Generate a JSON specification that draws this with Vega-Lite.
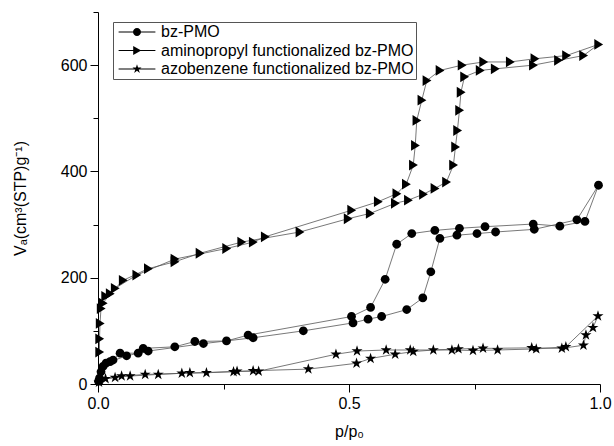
{
  "$schema": "https://vega.github.io/schema/vega-lite/v6.json",
  "width": 502,
  "height": 372,
  "autosize": {"type": "none"},
  "padding": {"left": 98, "top": 12, "right": 14, "bottom": 62},
  "background": "white",
  "config": {
    "view": {"stroke": null},
    "font": "Liberation Sans",
    "axis": {
      "grid": false,
      "domainColor": "black",
      "tickColor": "black",
      "labelColor": "black",
      "titleColor": "black",
      "labelFont": "Liberation Sans",
      "titleFont": "Liberation Sans",
      "labelFontSize": 16,
      "titleFontSize": 16,
      "titleFontWeight": "normal",
      "labelFlush": false,
      "labelOverlap": false,
      "domainWidth": 1,
      "tickWidth": 1
    },
    "legend": {
      "labelFont": "Liberation Sans",
      "labelFontSize": 16,
      "labelColor": "black"
    }
  },
  "data": {
    "values": [
      {"s": "bz-PMO", "i": 1, "x": 0.001, "y": 5},
      {"s": "bz-PMO", "i": 2, "x": 0.003, "y": 11},
      {"s": "bz-PMO", "i": 3, "x": 0.006, "y": 23},
      {"s": "bz-PMO", "i": 4, "x": 0.010, "y": 33},
      {"s": "bz-PMO", "i": 5, "x": 0.024, "y": 42},
      {"s": "bz-PMO", "i": 6, "x": 0.057, "y": 53},
      {"s": "bz-PMO", "i": 7, "x": 0.100, "y": 62},
      {"s": "bz-PMO", "i": 8, "x": 0.210, "y": 76},
      {"s": "bz-PMO", "i": 9, "x": 0.309, "y": 87},
      {"s": "bz-PMO", "i": 10, "x": 0.409, "y": 100},
      {"s": "bz-PMO", "i": 11, "x": 0.508, "y": 115},
      {"s": "bz-PMO", "i": 12, "x": 0.538, "y": 122},
      {"s": "bz-PMO", "i": 13, "x": 0.565, "y": 127},
      {"s": "bz-PMO", "i": 14, "x": 0.615, "y": 140},
      {"s": "bz-PMO", "i": 15, "x": 0.647, "y": 162},
      {"s": "bz-PMO", "i": 16, "x": 0.663, "y": 211},
      {"s": "bz-PMO", "i": 17, "x": 0.681, "y": 274},
      {"s": "bz-PMO", "i": 18, "x": 0.715, "y": 280},
      {"s": "bz-PMO", "i": 19, "x": 0.755, "y": 283},
      {"s": "bz-PMO", "i": 20, "x": 0.792, "y": 286},
      {"s": "bz-PMO", "i": 21, "x": 0.869, "y": 291},
      {"s": "bz-PMO", "i": 22, "x": 0.954, "y": 309},
      {"s": "bz-PMO", "i": 23, "x": 0.997, "y": 374},
      {"s": "bz-PMO", "i": 24, "x": 0.970, "y": 306},
      {"s": "bz-PMO", "i": 25, "x": 0.920, "y": 297},
      {"s": "bz-PMO", "i": 26, "x": 0.867, "y": 301},
      {"s": "bz-PMO", "i": 27, "x": 0.771, "y": 296},
      {"s": "bz-PMO", "i": 28, "x": 0.720, "y": 293},
      {"s": "bz-PMO", "i": 29, "x": 0.671, "y": 289},
      {"s": "bz-PMO", "i": 30, "x": 0.625, "y": 283},
      {"s": "bz-PMO", "i": 31, "x": 0.595, "y": 263},
      {"s": "bz-PMO", "i": 32, "x": 0.572, "y": 197},
      {"s": "bz-PMO", "i": 33, "x": 0.543, "y": 144},
      {"s": "bz-PMO", "i": 34, "x": 0.505, "y": 127},
      {"s": "bz-PMO", "i": 35, "x": 0.299, "y": 92},
      {"s": "bz-PMO", "i": 36, "x": 0.256, "y": 81},
      {"s": "bz-PMO", "i": 37, "x": 0.193, "y": 80},
      {"s": "bz-PMO", "i": 38, "x": 0.153, "y": 70},
      {"s": "bz-PMO", "i": 39, "x": 0.090, "y": 67},
      {"s": "bz-PMO", "i": 40, "x": 0.080, "y": 58},
      {"s": "bz-PMO", "i": 41, "x": 0.044, "y": 58},
      {"s": "bz-PMO", "i": 42, "x": 0.030, "y": 45},
      {"s": "bz-PMO", "i": 43, "x": 0.016, "y": 39},

      {"s": "aminopropyl functionalized bz-PMO", "i": 1, "x": 0.003, "y": 60},
      {"s": "aminopropyl functionalized bz-PMO", "i": 2, "x": 0.003, "y": 85},
      {"s": "aminopropyl functionalized bz-PMO", "i": 3, "x": 0.004, "y": 114},
      {"s": "aminopropyl functionalized bz-PMO", "i": 4, "x": 0.006, "y": 142},
      {"s": "aminopropyl functionalized bz-PMO", "i": 5, "x": 0.010, "y": 152},
      {"s": "aminopropyl functionalized bz-PMO", "i": 6, "x": 0.024, "y": 170},
      {"s": "aminopropyl functionalized bz-PMO", "i": 7, "x": 0.050, "y": 195},
      {"s": "aminopropyl functionalized bz-PMO", "i": 8, "x": 0.100, "y": 217},
      {"s": "aminopropyl functionalized bz-PMO", "i": 9, "x": 0.153, "y": 230},
      {"s": "aminopropyl functionalized bz-PMO", "i": 10, "x": 0.203, "y": 246},
      {"s": "aminopropyl functionalized bz-PMO", "i": 11, "x": 0.286, "y": 267},
      {"s": "aminopropyl functionalized bz-PMO", "i": 12, "x": 0.402, "y": 286},
      {"s": "aminopropyl functionalized bz-PMO", "i": 13, "x": 0.498, "y": 311},
      {"s": "aminopropyl functionalized bz-PMO", "i": 14, "x": 0.542, "y": 321},
      {"s": "aminopropyl functionalized bz-PMO", "i": 15, "x": 0.592, "y": 340},
      {"s": "aminopropyl functionalized bz-PMO", "i": 16, "x": 0.618, "y": 346},
      {"s": "aminopropyl functionalized bz-PMO", "i": 17, "x": 0.648, "y": 357},
      {"s": "aminopropyl functionalized bz-PMO", "i": 18, "x": 0.671, "y": 368},
      {"s": "aminopropyl functionalized bz-PMO", "i": 19, "x": 0.694, "y": 380},
      {"s": "aminopropyl functionalized bz-PMO", "i": 20, "x": 0.708, "y": 412},
      {"s": "aminopropyl functionalized bz-PMO", "i": 21, "x": 0.712, "y": 446},
      {"s": "aminopropyl functionalized bz-PMO", "i": 22, "x": 0.716, "y": 477},
      {"s": "aminopropyl functionalized bz-PMO", "i": 23, "x": 0.720, "y": 515},
      {"s": "aminopropyl functionalized bz-PMO", "i": 24, "x": 0.723, "y": 549},
      {"s": "aminopropyl functionalized bz-PMO", "i": 25, "x": 0.730, "y": 578},
      {"s": "aminopropyl functionalized bz-PMO", "i": 26, "x": 0.761, "y": 590},
      {"s": "aminopropyl functionalized bz-PMO", "i": 27, "x": 0.791, "y": 593},
      {"s": "aminopropyl functionalized bz-PMO", "i": 28, "x": 0.867, "y": 600},
      {"s": "aminopropyl functionalized bz-PMO", "i": 29, "x": 0.917, "y": 609},
      {"s": "aminopropyl functionalized bz-PMO", "i": 30, "x": 0.967, "y": 618},
      {"s": "aminopropyl functionalized bz-PMO", "i": 31, "x": 0.997, "y": 639},
      {"s": "aminopropyl functionalized bz-PMO", "i": 32, "x": 0.933, "y": 618},
      {"s": "aminopropyl functionalized bz-PMO", "i": 33, "x": 0.870, "y": 612},
      {"s": "aminopropyl functionalized bz-PMO", "i": 34, "x": 0.821, "y": 606},
      {"s": "aminopropyl functionalized bz-PMO", "i": 35, "x": 0.768, "y": 606},
      {"s": "aminopropyl functionalized bz-PMO", "i": 36, "x": 0.725, "y": 600},
      {"s": "aminopropyl functionalized bz-PMO", "i": 37, "x": 0.681, "y": 590},
      {"s": "aminopropyl functionalized bz-PMO", "i": 38, "x": 0.655, "y": 571},
      {"s": "aminopropyl functionalized bz-PMO", "i": 39, "x": 0.645, "y": 534},
      {"s": "aminopropyl functionalized bz-PMO", "i": 40, "x": 0.635, "y": 496},
      {"s": "aminopropyl functionalized bz-PMO", "i": 41, "x": 0.632, "y": 449},
      {"s": "aminopropyl functionalized bz-PMO", "i": 42, "x": 0.628, "y": 412},
      {"s": "aminopropyl functionalized bz-PMO", "i": 43, "x": 0.614, "y": 376},
      {"s": "aminopropyl functionalized bz-PMO", "i": 44, "x": 0.595, "y": 358},
      {"s": "aminopropyl functionalized bz-PMO", "i": 45, "x": 0.558, "y": 343},
      {"s": "aminopropyl functionalized bz-PMO", "i": 46, "x": 0.505, "y": 327},
      {"s": "aminopropyl functionalized bz-PMO", "i": 47, "x": 0.333, "y": 277},
      {"s": "aminopropyl functionalized bz-PMO", "i": 48, "x": 0.309, "y": 267},
      {"s": "aminopropyl functionalized bz-PMO", "i": 49, "x": 0.256, "y": 255},
      {"s": "aminopropyl functionalized bz-PMO", "i": 50, "x": 0.153, "y": 235},
      {"s": "aminopropyl functionalized bz-PMO", "i": 51, "x": 0.077, "y": 205},
      {"s": "aminopropyl functionalized bz-PMO", "i": 52, "x": 0.034, "y": 180},
      {"s": "aminopropyl functionalized bz-PMO", "i": 53, "x": 0.015, "y": 165},

      {"s": "azobenzene functionalized bz-PMO", "i": 1, "x": 0.002, "y": 3},
      {"s": "azobenzene functionalized bz-PMO", "i": 2, "x": 0.004, "y": 8},
      {"s": "azobenzene functionalized bz-PMO", "i": 3, "x": 0.034, "y": 12},
      {"s": "azobenzene functionalized bz-PMO", "i": 4, "x": 0.064, "y": 15},
      {"s": "azobenzene functionalized bz-PMO", "i": 5, "x": 0.120, "y": 18},
      {"s": "azobenzene functionalized bz-PMO", "i": 6, "x": 0.183, "y": 21},
      {"s": "azobenzene functionalized bz-PMO", "i": 7, "x": 0.270, "y": 23},
      {"s": "azobenzene functionalized bz-PMO", "i": 8, "x": 0.309, "y": 25},
      {"s": "azobenzene functionalized bz-PMO", "i": 9, "x": 0.419, "y": 28},
      {"s": "azobenzene functionalized bz-PMO", "i": 10, "x": 0.515, "y": 39},
      {"s": "azobenzene functionalized bz-PMO", "i": 11, "x": 0.543, "y": 48},
      {"s": "azobenzene functionalized bz-PMO", "i": 12, "x": 0.592, "y": 56},
      {"s": "azobenzene functionalized bz-PMO", "i": 13, "x": 0.628, "y": 61},
      {"s": "azobenzene functionalized bz-PMO", "i": 14, "x": 0.668, "y": 64},
      {"s": "azobenzene functionalized bz-PMO", "i": 15, "x": 0.718, "y": 66},
      {"s": "azobenzene functionalized bz-PMO", "i": 16, "x": 0.767, "y": 67},
      {"s": "azobenzene functionalized bz-PMO", "i": 17, "x": 0.864, "y": 68},
      {"s": "azobenzene functionalized bz-PMO", "i": 18, "x": 0.924, "y": 67},
      {"s": "azobenzene functionalized bz-PMO", "i": 19, "x": 0.967, "y": 73},
      {"s": "azobenzene functionalized bz-PMO", "i": 20, "x": 0.972, "y": 92},
      {"s": "azobenzene functionalized bz-PMO", "i": 21, "x": 0.986, "y": 106},
      {"s": "azobenzene functionalized bz-PMO", "i": 22, "x": 0.996, "y": 128},
      {"s": "azobenzene functionalized bz-PMO", "i": 23, "x": 0.932, "y": 70},
      {"s": "azobenzene functionalized bz-PMO", "i": 24, "x": 0.873, "y": 66},
      {"s": "azobenzene functionalized bz-PMO", "i": 25, "x": 0.796, "y": 64},
      {"s": "azobenzene functionalized bz-PMO", "i": 26, "x": 0.747, "y": 63},
      {"s": "azobenzene functionalized bz-PMO", "i": 27, "x": 0.705, "y": 64},
      {"s": "azobenzene functionalized bz-PMO", "i": 28, "x": 0.622, "y": 64},
      {"s": "azobenzene functionalized bz-PMO", "i": 29, "x": 0.574, "y": 64},
      {"s": "azobenzene functionalized bz-PMO", "i": 30, "x": 0.516, "y": 62},
      {"s": "azobenzene functionalized bz-PMO", "i": 31, "x": 0.474, "y": 56},
      {"s": "azobenzene functionalized bz-PMO", "i": 32, "x": 0.320, "y": 24},
      {"s": "azobenzene functionalized bz-PMO", "i": 33, "x": 0.277, "y": 24},
      {"s": "azobenzene functionalized bz-PMO", "i": 34, "x": 0.216, "y": 21},
      {"s": "azobenzene functionalized bz-PMO", "i": 35, "x": 0.167, "y": 20},
      {"s": "azobenzene functionalized bz-PMO", "i": 36, "x": 0.094, "y": 18},
      {"s": "azobenzene functionalized bz-PMO", "i": 37, "x": 0.047, "y": 15},
      {"s": "azobenzene functionalized bz-PMO", "i": 38, "x": 0.015, "y": 10}
    ]
  },
  "encoding": {
    "x": {
      "field": "x",
      "type": "quantitative",
      "scale": {"domain": [0, 1], "nice": false, "zero": false},
      "axis": {
        "title": "p/p₀",
        "values": [0, 0.25, 0.5, 0.75, 1],
        "format": ".1f",
        "labelExpr": "(datum.value == 0.25 || datum.value == 0.75) ? '' : datum.label",
        "tickSize": {"condition": {"test": "datum.value == 0.25 || datum.value == 0.75", "value": 5}, "value": 8},
        "labelPadding": 3,
        "titlePadding": 12
      }
    },
    "y": {
      "field": "y",
      "type": "quantitative",
      "scale": {"domain": [0, 700], "nice": false},
      "axis": {
        "title": "Vₐ(cm³(STP)g⁻¹)",
        "values": [0, 100, 200, 300, 400, 500, 600, 700],
        "labelExpr": "datum.value % 200 == 0 ? datum.label : ''",
        "tickSize": {"condition": {"test": "datum.value % 200 != 0", "value": 5}, "value": 8},
        "labelPadding": 3,
        "titlePadding": 32
      }
    }
  },
  "layer": [
    {
      "mark": {"type": "line", "color": "#555555", "strokeWidth": 0.8},
      "encoding": {
        "detail": {"field": "s", "type": "nominal"},
        "order": {"field": "i", "type": "quantitative"}
      }
    },
    {
      "mark": {"type": "point", "filled": true, "color": "black", "opacity": 1, "size": 64, "strokeWidth": 0},
      "encoding": {
        "shape": {
          "field": "s",
          "type": "nominal",
          "scale": {
            "domain": ["bz-PMO", "aminopropyl functionalized bz-PMO", "azobenzene functionalized bz-PMO"],
            "range": [
              "M1.1,0A1.1,1.1,0,1,1,-1.1,0A1.1,1.1,0,1,1,1.1,0Z",
              "M-1.05,-1.35L1.15,0L-1.05,1.35Z",
              "M0,-1.45L0.325,-0.448L1.379,-0.448L0.527,0.171L0.853,1.173L0,0.554L-0.853,1.173L-0.527,0.171L-1.379,-0.448L-0.325,-0.448Z"
            ]
          },
          "legend": null
        }
      }
    },
    {
      "transform": [{"filter": "datum.x > 5"}],
      "mark": {"type": "point", "filled": true, "color": "black", "opacity": 1, "size": 64, "strokeWidth": 0},
      "encoding": {
        "shape": {
          "field": "s",
          "type": "nominal",
          "scale": {
            "domain": ["bz-PMO", "aminopropyl functionalized bz-PMO", "azobenzene functionalized bz-PMO"],
            "range": [
              "M-4.6,-0.12H4.6V0.12H-4.6Z M1,0A1,1,0,1,1,-1,0A1,1,0,1,1,1,0Z",
              "M-4.6,-0.12H4.6V0.12H-4.6Z M-0.95,-1.1L1.05,0L-0.95,1.1Z",
              "M-4.6,-0.12H4.6V0.12H-4.6Z M0,-1.2L0.269,-0.371L1.141,-0.371L0.436,0.142L0.706,0.971L0,0.458L-0.706,0.971L-0.436,0.142L-1.141,-0.371L-0.269,-0.371Z"
            ]
          },
          "legend": {
            "title": null,
            "orient": "none",
            "legendX": 15,
            "legendY": 10,
            "padding": 2,
            "rowPadding": 2.5,
            "symbolSize": 64,
            "symbolStrokeWidth": 0,
            "symbolFillColor": "black",
            "symbolOpacity": 1,
            "symbolOffset": 14,
            "labelOffset": 16,
            "strokeColor": "#555555",
            "labelLimit": 400
          }
        }
      }
    }
  ],
  "resolve": {"scale": {"shape": "independent"}}
}
